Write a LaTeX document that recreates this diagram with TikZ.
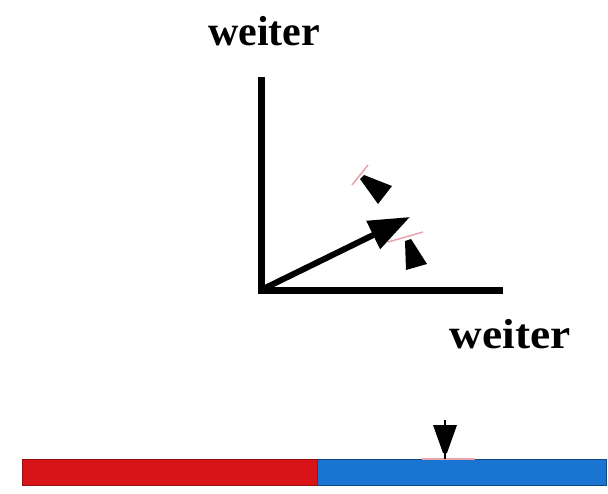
\documentclass[tikz,border=0pt]{standalone}
\usepackage{fontspec}
\setmainfont{Liberation Serif}
\usetikzlibrary{arrows.meta}
\definecolor{barred}{HTML}{D81418}
\definecolor{barblue}{HTML}{1A74D2}
\definecolor{tickpink}{HTML}{E8A4AC}

\begin{document}
\begin{tikzpicture}[x=1pt,y=-1pt,>=Latex,
    axis/.style={line width=7pt,line join=miter},
    label/.style={font=\fontsize{42}{42}\selectfont\bfseries,anchor=base,inner sep=0pt},
    tick/.style={tickpink,line width=1.5pt}]
  \useasboundingbox (0,0) rectangle (608,493);
  % axes
  \coordinate (ytop) at (261,77);
  \coordinate (origin) at (261,290);
  \coordinate (xend) at (503,290);
  \coordinate (vtip) at (410,217);
  \draw[axis] (ytop) -- (origin) -- (xend);
  \draw[line width=6pt,-{Triangle[length=41pt,width=30pt]}] (origin) -- (vtip);
  \node[label] (ylab) at (264,45) {weiter};
  \node[label,xscale=1.08] (xlab) at (510,348) {weiter};
  % markers
  \draw[tick] (352,185) -- (368,165);
  \fill (364,175) -- (360,179) -- (378,204) -- (392,186) -- cycle;
  \draw[tick] (388,242) -- (423,232);
  \fill (411,239) -- (405,241) -- (406,270) -- (427,264) -- cycle;
  % bar
  \draw[barred!70!black,fill=barred] (22,459) rectangle (317,485);
  \draw[barblue!60!black,fill=barblue] (317,459) rectangle (606,485);
  \draw[tick] (422,459) -- (475,459);
  \draw[line width=1.5pt] (445,420) -- (445,459);
  \fill (433,425) -- (457,425) -- (447,453) -- (443,453) -- cycle;
\end{tikzpicture}
\end{document}
